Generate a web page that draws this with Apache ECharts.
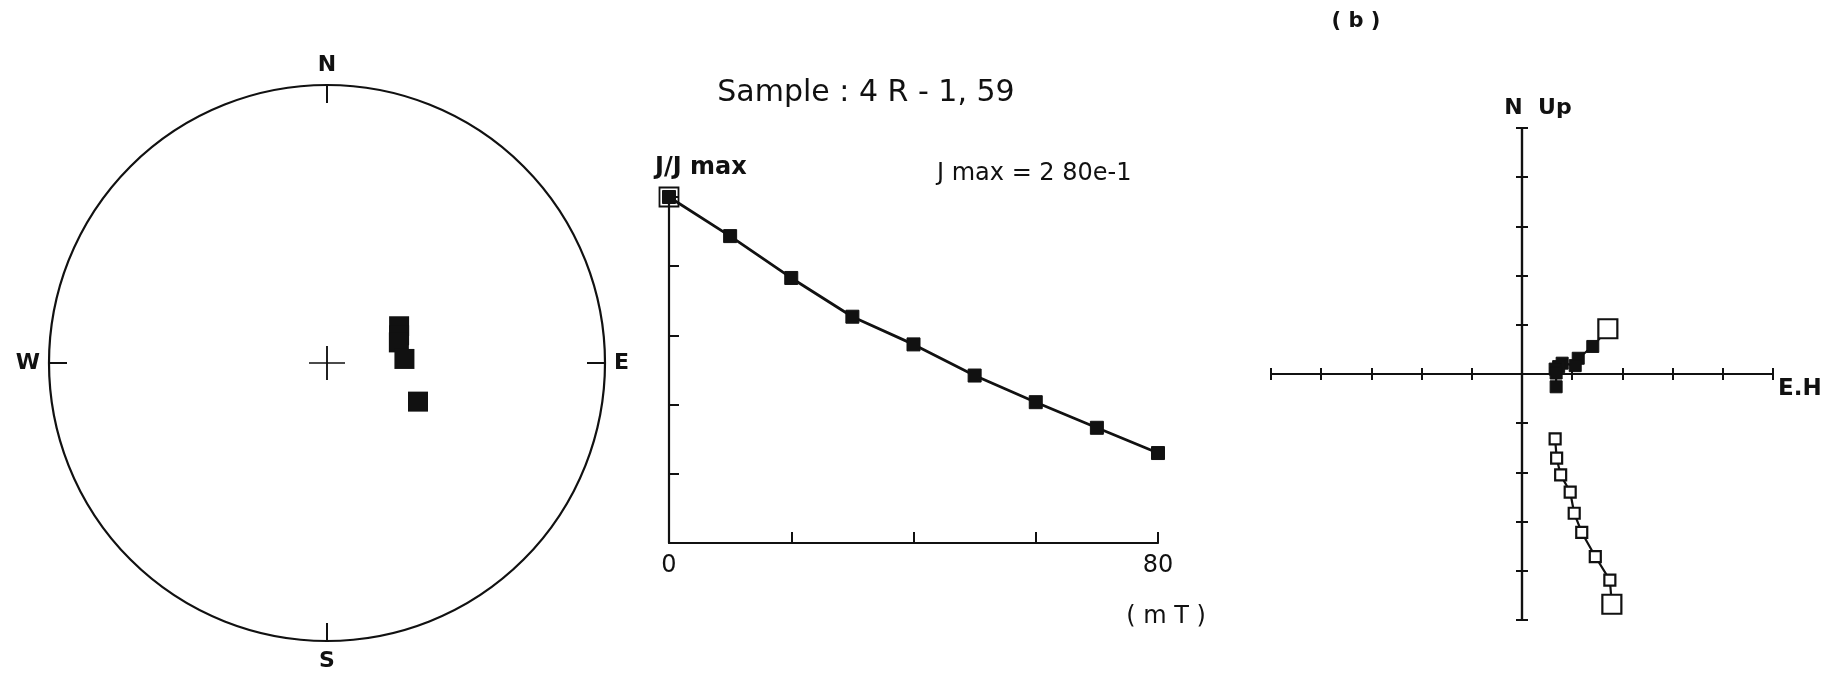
<!DOCTYPE html>
<html><head><meta charset="utf-8">
<script src="https://cdn.jsdelivr.net/npm/echarts@6/dist/echarts.min.js"></script>
<style>html,body{margin:0;padding:0;background:#fff}#c{width:1825px;height:673px}</style>
</head><body><div id="c"></div>
<script>
// ---- Stereonet directions (declination, inclination in degrees) ----
const stereoDec = [63, 69, 74, 87, 113];
const stereoInc = [63.8, 65.0, 65.8, 64.9, 58.0];
const compassLabels = ['N', 'E', 'S', 'W'];

// ---- AF demagnetisation curve ----
const fieldSteps = [0, 10, 20, 30, 40, 50, 60, 70, 80];      // mT
const jRatio = [1.0, 0.887, 0.766, 0.654, 0.574, 0.484, 0.407, 0.333, 0.260];
const fieldTickLabels = ['0', '80'];

// ---- Zijderveld diagram (tick units) ----
const horizE = [1.71, 1.41, 1.12, 1.06, 0.80, 0.73, 0.66, 0.68, 0.68];
const horizN = [0.92, 0.56, 0.32, 0.17, 0.22, 0.15, 0.10, 0.02, -0.26];
const vertE  = [1.79, 1.75, 1.46, 1.19, 1.04, 0.96, 0.77, 0.69, 0.66];
const vertUp = [-4.68, -4.19, -3.71, -3.22, -2.83, -2.40, -2.05, -1.71, -1.32];

const INK = '#111111';
const FONT = 'DejaVu Sans';

const chart = echarts.init(document.getElementById('c'), null, {renderer: 'canvas'});

function zijData(xs, ys, filled) {
  return xs.map((x, i) => {
    const big = i === 0;
    return {
      value: [x, ys[i]],
      symbolSize: big ? 19 : (filled ? 12 : 11),
      itemStyle: (big || !filled)
        ? {color: '#fff', borderColor: INK, borderWidth: 2.2, opacity: 1}
        : {color: INK, borderColor: INK, borderWidth: 1, opacity: 1}
    };
  });
}

const option = {
  backgroundColor: '#fff',
  animation: false,
  polar: {center: [327, 363], radius: 278},
  angleAxis: {
    type: 'value', min: 0, max: 360, interval: 90, startAngle: 90, clockwise: true,
    axisLine: {lineStyle: {color: INK, width: 2.2}},
    axisTick: {inside: true, length: 18, lineStyle: {color: INK, width: 2}},
    axisLabel: {
      margin: 9, color: INK, fontSize: 22, fontWeight: 'bold', fontFamily: FONT,
      formatter: v => (v >= 360 ? '' : compassLabels[Math.round(v / 90)])
    },
    splitLine: {show: false}
  },
  radiusAxis: {type: 'value', min: 0, max: 90, inverse: true, show: false},
  grid: [
    {left: 669, top: 197, width: 489, height: 346},
    {left: 1271, top: 128, width: 502, height: 492}
  ],
  xAxis: [
    {
      gridIndex: 0, type: 'value', min: 0, max: 80, interval: 20,
      axisLine: {lineStyle: {color: INK, width: 2.2}},
      axisTick: {inside: true, length: 11, lineStyle: {color: INK, width: 2}},
      axisLabel: {
        margin: 11, color: INK, fontSize: 24, fontFamily: FONT,
        formatter: v => (v === 0 ? fieldTickLabels[0] : (v === 80 ? fieldTickLabels[1] : ''))
      },
      splitLine: {show: false}
    },
    {
      gridIndex: 1, type: 'value', min: -5, max: 5, interval: 1, position: 'bottom',
      axisLine: {onZero: true, lineStyle: {color: INK, width: 2.2}},
      axisTick: {inside: false, length: 6, lineStyle: {color: INK, width: 2}},
      axisLabel: {show: false}, splitLine: {show: false}
    },
    {
      gridIndex: 1, type: 'value', min: -5, max: 5, interval: 1, position: 'top',
      axisLine: {onZero: true, lineStyle: {color: INK, width: 2.2}},
      axisTick: {inside: false, length: 6, lineStyle: {color: INK, width: 2}},
      axisLabel: {show: false}, splitLine: {show: false}
    }
  ],
  yAxis: [
    {
      gridIndex: 0, type: 'value', min: 0, max: 1, interval: 0.2,
      axisLine: {show: true, lineStyle: {color: INK, width: 2.2}},
      axisTick: {show: true, inside: true, length: 10, lineStyle: {color: INK, width: 2}},
      axisLabel: {show: false}, splitLine: {show: false}
    },
    {
      gridIndex: 1, type: 'value', min: -5, max: 5, interval: 1, position: 'left',
      axisLine: {show: true, onZero: true, lineStyle: {color: INK, width: 2.2}},
      axisTick: {show: true, inside: false, length: 6, lineStyle: {color: INK, width: 2}},
      axisLabel: {show: false}, splitLine: {show: false}
    },
    {
      gridIndex: 1, type: 'value', min: -5, max: 5, interval: 1, position: 'right',
      axisLine: {show: true, onZero: true, lineStyle: {color: INK, width: 2.2}},
      axisTick: {show: true, inside: false, length: 6, lineStyle: {color: INK, width: 2}},
      axisLabel: {show: false}, splitLine: {show: false}
    }
  ],
  series: [
    // stereonet centre cross
    {
      type: 'scatter', coordinateSystem: 'polar', silent: true,
      data: [[90, 0]],
      symbol: 'path://M0,17L36,17M18,0L18,34', symbolSize: [36, 34], symbolKeepAspect: false,
      itemStyle: {color: 'none', borderColor: INK, borderWidth: 1.8, opacity: 1}
    },
    // stereonet directions
    {
      type: 'scatter', coordinateSystem: 'polar',
      data: stereoInc.map((inc, i) => [inc, stereoDec[i]]),
      symbol: 'rect', symbolSize: 20,
      itemStyle: {color: INK, opacity: 1}
    },
    // NRM marker on decay curve
    {
      type: 'scatter', xAxisIndex: 0, yAxisIndex: 0,
      data: [[fieldSteps[0], jRatio[0]]],
      symbol: 'rect', symbolSize: 19,
      itemStyle: {color: 'none', borderColor: INK, borderWidth: 1.8, opacity: 1}, z: 1
    },
    // decay curve
    {
      type: 'line', xAxisIndex: 0, yAxisIndex: 0,
      data: fieldSteps.map((f, i) => [f, jRatio[i]]),
      symbol: 'rect', symbolSize: 13, showAllSymbol: true,
      lineStyle: {color: INK, width: 2.8},
      itemStyle: {color: INK, borderColor: INK, borderWidth: 1, opacity: 1}, z: 3
    },
    // Zijderveld horizontal projection
    {
      type: 'line', xAxisIndex: 1, yAxisIndex: 1,
      data: zijData(horizE, horizN, true),
      symbol: 'rect', showAllSymbol: true,
      lineStyle: {color: INK, width: 2.2}, z: 4
    },
    // Zijderveld vertical projection
    {
      type: 'line', xAxisIndex: 1, yAxisIndex: 1,
      data: zijData(vertE, vertUp, false),
      symbol: 'rect', showAllSymbol: true,
      lineStyle: {color: INK, width: 2.2}, z: 4
    }
  ],
  graphic: [
    {type: 'text', x: 1356, y: 22, style: {text: '( b )', font: 'bold 21px "DejaVu Sans"', fill: INK, align: 'center', verticalAlign: 'middle'}},
    {type: 'text', x: 866, y: 93, style: {text: 'Sample : 4 R - 1, 59', font: '30px "DejaVu Sans"', fill: INK, align: 'center', verticalAlign: 'middle'}},
    {type: 'text', x: 655, y: 168, style: {text: 'J/J max', font: 'bold 24px "DejaVu Sans"', fill: INK, align: 'left', verticalAlign: 'middle'}},
    {type: 'text', x: 937, y: 174, style: {text: 'J max = 2 80e-1', font: '24px "DejaVu Sans"', fill: INK, align: 'left', verticalAlign: 'middle'}},
    {type: 'text', x: 1166, y: 617, style: {text: '( m T )', font: '24px "DejaVu Sans"', fill: INK, align: 'center', verticalAlign: 'middle'}},
    {type: 'text', x: 1538, y: 108, style: {text: 'N  Up', font: 'bold 22px "DejaVu Sans"', fill: INK, align: 'center', verticalAlign: 'middle'}},
    {type: 'text', x: 1778, y: 389, style: {text: 'E.H', font: 'bold 23px "DejaVu Sans"', fill: INK, align: 'left', verticalAlign: 'middle'}}
  ]
};
chart.setOption(option);
</script>
</body></html>
